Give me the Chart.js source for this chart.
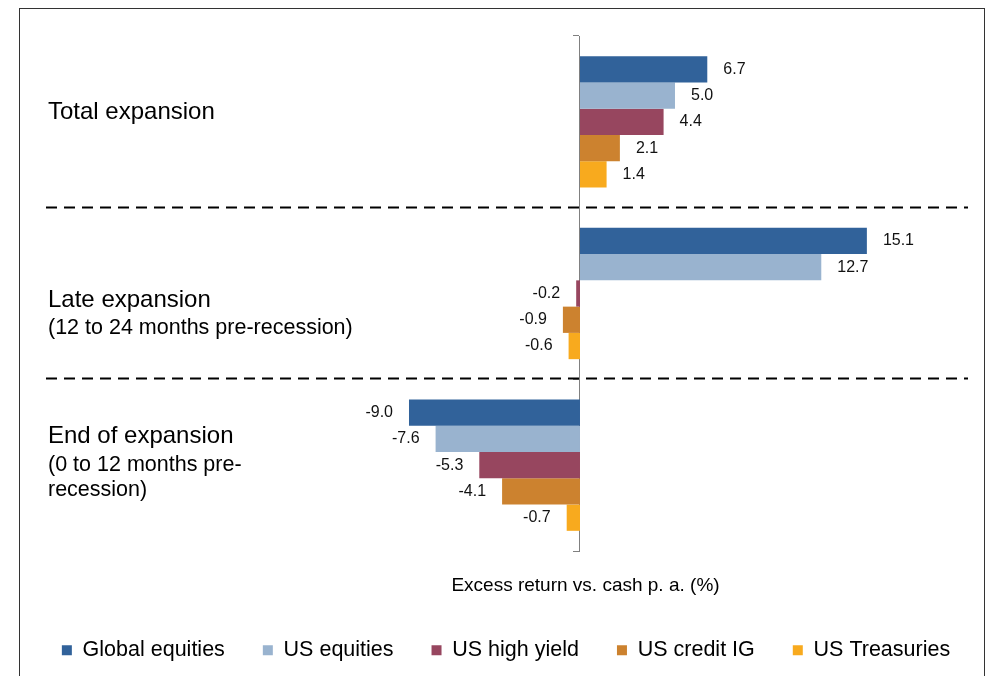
<!DOCTYPE html>
<html><head><meta charset="utf-8">
<script src="https://cdn.jsdelivr.net/npm/chart.js@4"></script>
<style>
html,body{margin:0;padding:0;background:#fff;}
#wrap{position:relative;width:990px;height:676px;overflow:hidden;}
#frame{position:absolute;left:19px;top:8px;width:964px;height:720px;border:1px solid #333;pointer-events:none;}
canvas{display:block;}
</style></head><body>
<div id="wrap"><canvas id="c" width="990" height="676"></canvas><div id="frame"></div></div>
<script>
const categories = ['Total expansion', 'Late expansion', 'End of expansion'];
const categoryNotes = [[], ['(12 to 24 months pre-recession)'], ['(0 to 12 months pre-', 'recession)']];
const seriesNames = ['Global equities', 'US equities', 'US high yield', 'US credit IG', 'US Treasuries'];
const globalEquities = [6.7, 15.1, -9.0];
const usEquities = [5.0, 12.7, -7.6];
const usHighYield = [4.4, -0.2, -5.3];
const usCreditIG = [2.1, -0.9, -4.1];
const usTreasuries = [1.4, -0.6, -0.7];
const axisTitle = 'Excess return vs. cash p. a. (%)';

const seriesValues = [globalEquities, usEquities, usHighYield, usCreditIG, usTreasuries];
const seriesColors = ['#31629A', '#99B3CF', '#97465F', '#CC822F', '#F8AA1E'];
const FONT = "'Liberation Sans', Arial, sans-serif";

const valueLabels = {
  id: 'valueLabels',
  afterDatasetsDraw(chart) {
    const ctx = chart.ctx;
    ctx.save();
    ctx.font = '16px ' + FONT;
    ctx.fillStyle = '#111';
    ctx.textBaseline = 'middle';
    chart.data.datasets.forEach((ds, di) => {
      const meta = chart.getDatasetMeta(di);
      meta.data.forEach((bar, i) => {
        const v = ds.data[i];
        const txt = v.toFixed(1);
        if (v >= 0) { ctx.textAlign = 'left'; ctx.fillText(txt, bar.x + 16, bar.y); }
        else { ctx.textAlign = 'right'; ctx.fillText(txt, bar.x - 16, bar.y); }
      });
    });
    ctx.restore();
  }
};

const categoryDecor = {
  id: 'categoryDecor',
  afterDraw(chart, args, opts) {
    const ctx = chart.ctx;
    const ys = chart.scales.y;
    ctx.save();
    // dashed separators between categories
    ctx.strokeStyle = '#000';
    ctx.lineWidth = 2;
    ctx.setLineDash([11, 7]);
    for (let i = 1; i < categories.length; i++) {
      const y = Math.round((ys.getPixelForValue(i - 1) + ys.getPixelForValue(i)) / 2) - 0.5;
      ctx.beginPath();
      ctx.moveTo(opts.lineLeft, y);
      ctx.lineTo(opts.lineRight, y);
      ctx.stroke();
    }
    ctx.setLineDash([]);
    // category labels
    ctx.fillStyle = '#000';
    ctx.textAlign = 'left';
    ctx.textBaseline = 'alphabetic';
    categories.forEach((name, i) => {
      const cy = ys.getPixelForValue(i);
      const offs = opts.baselines[i];
      ctx.font = '24px ' + FONT;
      ctx.fillText(name, opts.labelX, cy + offs[0]);
      ctx.font = '21.5px ' + FONT;
      categoryNotes[i].forEach((line, k) => {
        ctx.fillText(line, opts.labelX, cy + offs[k + 1]);
      });
    });
    ctx.restore();
  }
};

const spacer = (w) => ({
  type: 'category',
  display: true,
  ticks: { display: false },
  grid: { display: false },
  border: { display: false },
  afterFit(s) { s.width = w; }
});

new Chart(document.getElementById('c'), {
  type: 'bar',
  data: {
    labels: categories,
    datasets: seriesNames.map((name, i) => ({
      label: name,
      data: seriesValues[i],
      backgroundColor: seriesColors[i],
      borderWidth: 0,
      categoryPercentage: 0.765,
      barPercentage: 1.0
    }))
  },
  options: {
    responsive: false,
    animation: false,
    devicePixelRatio: 1,
    indexAxis: 'y',
    layout: { padding: { left: 22, right: 0, top: 36, bottom: 5 } },
    scales: {
      x: {
        min: -20,
        max: 20.58,
        grid: { display: false },
        border: { display: false },
        ticks: { display: false },
        title: { display: true, text: axisTitle, color: '#000', font: { family: FONT, size: 19 }, padding: { top: 0, bottom: 4 } },
        afterFit(s) { s.height = 50.5; }
      },
      y: {
        position: { x: 0 },
        offset: true,
        ticks: { display: false },
        grid: { drawOnChartArea: false, drawTicks: true, tickLength: 6, color: '#808080', offset: true },
        border: { display: true, color: '#808080', width: 1 }
      },
      padLeft: Object.assign(spacer(178), { position: 'left' }),
      padRight: Object.assign(spacer(19), { position: 'right' })
    },
    plugins: {
      legend: {
        position: 'bottom',
        labels: { boxWidth: 10, boxHeight: 10, padding: 38, color: '#000', font: { family: FONT, size: 21.5 } }
      },
      tooltip: { enabled: false },
      categoryDecor: { labelX: 48, lineLeft: 46, lineRight: 968, baselines: [[-2.5], [13, 40], [-21.7, 5.7, 31]] }
    }
  },
  plugins: [valueLabels, categoryDecor]
});
</script>
</body></html>
